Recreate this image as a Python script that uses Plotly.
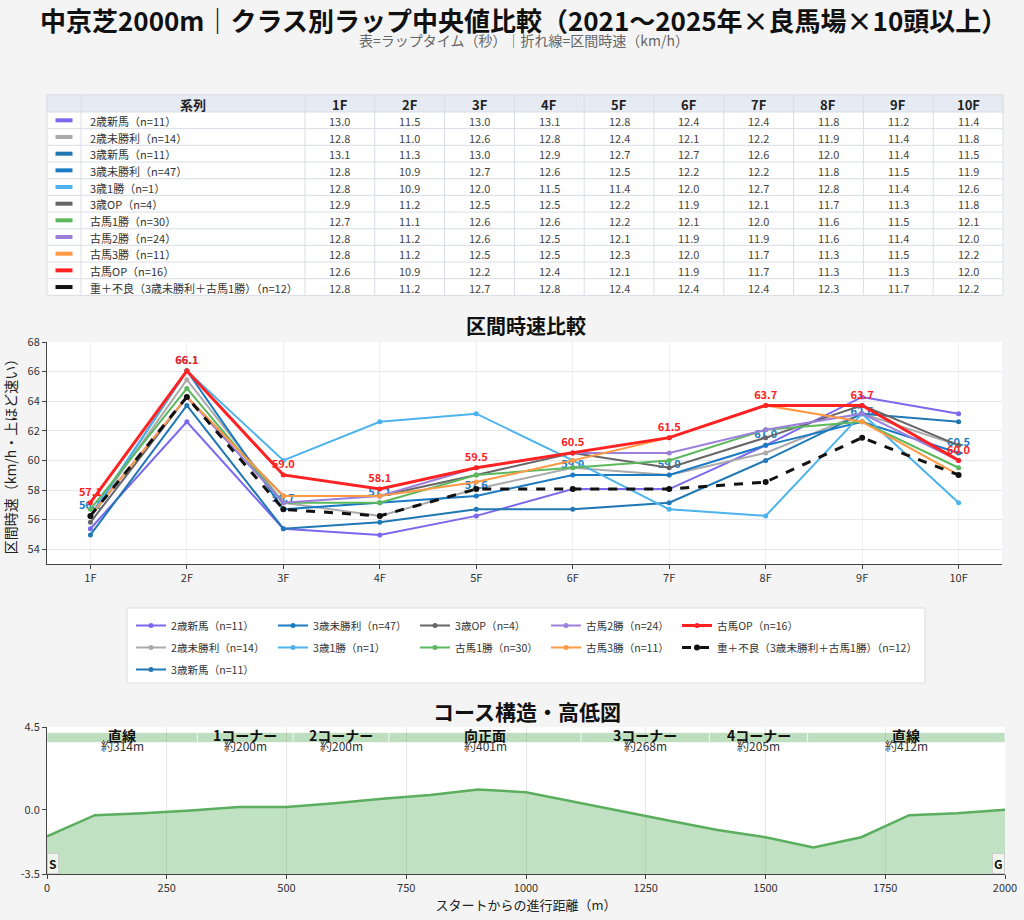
import plotly.graph_objects as go

W, H = 1024, 920
FONT = "Noto Sans CJK JP"

# ---- data ----
sections = ["1F", "2F", "3F", "4F", "5F", "6F", "7F", "8F", "9F", "10F"]

series_names = [
    "2歳新馬（n=11）",
    "2歳未勝利（n=14）",
    "3歳新馬（n=11）",
    "3歳未勝利（n=47）",
    "3歳1勝（n=1）",
    "3歳OP（n=4）",
    "古馬1勝（n=30）",
    "古馬2勝（n=24）",
    "古馬3勝（n=11）",
    "古馬OP（n=16）",
    "重＋不良（3歳未勝利＋古馬1勝）（n=12）",
]

# lap medians (seconds per 200m)
lap_2sai_shinba = [13.0, 11.5, 13.0, 13.1, 12.8, 12.4, 12.4, 11.8, 11.2, 11.4]
lap_2sai_misho = [12.8, 11.0, 12.6, 12.8, 12.4, 12.1, 12.2, 11.9, 11.4, 11.8]
lap_3sai_shinba = [13.1, 11.3, 13.0, 12.9, 12.7, 12.7, 12.6, 12.0, 11.4, 11.5]
lap_3sai_misho = [12.8, 10.9, 12.7, 12.6, 12.5, 12.2, 12.2, 11.8, 11.5, 11.9]
lap_3sai_1win = [12.8, 10.9, 12.0, 11.5, 11.4, 12.0, 12.7, 12.8, 11.4, 12.6]
lap_3sai_op = [12.9, 11.2, 12.5, 12.5, 12.2, 11.9, 12.1, 11.7, 11.3, 11.8]
lap_koba_1win = [12.7, 11.1, 12.6, 12.6, 12.2, 12.1, 12.0, 11.6, 11.5, 12.1]
lap_koba_2win = [12.8, 11.2, 12.6, 12.5, 12.1, 11.9, 11.9, 11.6, 11.4, 12.0]
lap_koba_3win = [12.8, 11.2, 12.5, 12.5, 12.3, 12.0, 11.7, 11.3, 11.5, 12.2]
lap_koba_op = [12.6, 10.9, 12.2, 12.4, 12.1, 11.9, 11.7, 11.3, 11.3, 12.0]
lap_heavy = [12.8, 11.2, 12.7, 12.8, 12.4, 12.4, 12.4, 12.3, 11.7, 12.2]

laps = [lap_2sai_shinba, lap_2sai_misho, lap_3sai_shinba, lap_3sai_misho,
        lap_3sai_1win, lap_3sai_op, lap_koba_1win, lap_koba_2win,
        lap_koba_3win, lap_koba_op, lap_heavy]

colors = ["#7b68ee", "#aaaaaa", "#1f77b4", "#1a7ac4", "#4db3ec", "#666666",
          "#5cb85c", "#9b7fdb", "#ff9944", "#ff2222", "#111111"]
line_widths = [2, 2, 2, 2, 2, 2, 2, 2, 2, 3, 3]
labeled = [False, False, False, True, False, False, False, False, False, True, False]
legend_col = [0, 0, 0, 1, 1, 2, 2, 3, 3, 4, 4]

# course profile
elev_x = [0, 100, 200, 300, 400, 500, 600, 700, 800, 900, 1000, 1100, 1200,
          1300, 1400, 1500, 1600, 1700, 1800, 1900, 2000]
elev_y = [-1.45, -0.3, -0.2, -0.05, 0.15, 0.15, 0.35, 0.6, 0.8, 1.1, 0.95, 0.42,
          -0.1, -0.6, -1.1, -1.5, -2.05, -1.5, -0.3, -0.2, 0.0]
seg_names = ["直線", "1コーナー", "2コーナー", "向正面", "3コーナー", "4コーナー", "直線"]
seg_lengths = [314, 200, 200, 401, 268, 205, 412]


def px_x(p):
    return p / W


def px_y(p):
    return 1 - p / H


fig = go.Figure()
shapes = []
annotations = []

# ---- table (drawn with shapes + annotations so row heights stay compact) ----
tbl_left, tbl_top = 47, 95
hdr_h, row_h = 17, 16.67
col_w = [34, 224] + [69.8] * len(sections)
col_edges = [tbl_left]
for w in col_w:
    col_edges.append(col_edges[-1] + w)
tbl_right = col_edges[-1]
tbl_bottom = tbl_top + hdr_h + row_h * len(series_names)
grid_c = "#d9dde4"

shapes.append(dict(type="rect", xref="paper", yref="paper", layer="below",
                   x0=px_x(tbl_left), x1=px_x(tbl_right), y0=px_y(tbl_bottom), y1=px_y(tbl_top),
                   fillcolor="white", line=dict(color=grid_c, width=1)))
shapes.append(dict(type="rect", xref="paper", yref="paper", layer="below",
                   x0=px_x(tbl_left), x1=px_x(tbl_right), y0=px_y(tbl_top + hdr_h), y1=px_y(tbl_top),
                   fillcolor="#e6ebf3", line=dict(color=grid_c, width=1)))
for r in range(1, len(series_names)):
    yy = tbl_top + hdr_h + row_h * r
    shapes.append(dict(type="line", xref="paper", yref="paper", layer="below",
                       x0=px_x(tbl_left), x1=px_x(tbl_right), y0=px_y(yy), y1=px_y(yy),
                       line=dict(color=grid_c, width=1)))
for xe in col_edges[1:-1]:
    shapes.append(dict(type="line", xref="paper", yref="paper", layer="below",
                       x0=px_x(xe), x1=px_x(xe), y0=px_y(tbl_bottom), y1=px_y(tbl_top),
                       line=dict(color=grid_c, width=1)))

header_vals = ["系列"] + sections
for c, hv in enumerate(header_vals, start=1):
    annotations.append(dict(xref="paper", yref="paper",
                            x=px_x((col_edges[c] + col_edges[c + 1]) / 2),
                            y=px_y(tbl_top + hdr_h / 2 + 0.5), xanchor="center", yanchor="middle",
                            text=f"<b>{hv}</b>", showarrow=False,
                            font=dict(family=FONT, size=13, color="#222")))

for r, name in enumerate(series_names):
    yc = tbl_top + hdr_h + row_h * (r + 0.5)
    sw_c = (col_edges[0] + col_edges[1]) / 2
    shapes.append(dict(type="rect", xref="paper", yref="paper", layer="below",
                       x0=px_x(sw_c - 8.5), x1=px_x(sw_c + 8.5), y0=px_y(yc + 2), y1=px_y(yc - 2),
                       fillcolor=colors[r], line=dict(width=0)))
    annotations.append(dict(xref="paper", yref="paper", x=px_x(col_edges[1] + 7),
                            y=px_y(yc + 0.5), xanchor="left", yanchor="middle",
                            text=name, showarrow=False,
                            font=dict(family=FONT, size=11, color="#333")))
    for j in range(len(sections)):
        annotations.append(dict(xref="paper", yref="paper",
                                x=px_x((col_edges[j + 2] + col_edges[j + 3]) / 2),
                                y=px_y(yc + 0.5), xanchor="center", yanchor="middle",
                                text=f"{laps[r][j]:.1f}", showarrow=False,
                                font=dict(family=FONT, size=11, color="#444")))

# ---- speed lines ----
legend_ids = ["legend", "legend2", "legend3", "legend4", "legend5"]
for i, name in enumerate(series_names):
    speeds = [720 / t for t in laps[i]]  # 200m lap -> km/h
    mode = "lines+markers+text" if labeled[i] else "lines+markers"
    fig.add_trace(go.Scatter(
        x=sections, y=speeds, mode=mode, name=name, legendgroup=name,
        line=dict(color=colors[i], width=line_widths[i],
                  dash="dash" if i == len(series_names) - 1 else "solid"),
        marker=dict(size=5 if i < len(series_names) - 1 else 6, color=colors[i]),
        text=[f"{v:.1f}" for v in speeds] if labeled[i] else None,
        textposition="top center",
        textfont=dict(family=FONT, size=11, color=colors[i], weight="bold"),
        legend=legend_ids[legend_col[i]],
        xaxis="x", yaxis="y",
    ))

# ---- course profile ----
fig.add_trace(go.Scatter(
    x=[elev_x[0], elev_x[-1]], y=[-3.5, -3.5], mode="lines",
    line=dict(width=0), showlegend=False, hoverinfo="skip",
    xaxis="x2", yaxis="y2",
))
fig.add_trace(go.Scatter(
    x=elev_x, y=elev_y, mode="lines", fill="tonexty",
    fillcolor="rgba(92,176,96,0.38)", line=dict(color="#5aae5e", width=2.5),
    showlegend=False, xaxis="x2", yaxis="y2",
))

start = 0
for name, length in zip(seg_names, seg_lengths):
    end = start + length
    shapes.append(dict(type="rect", xref="x2", yref="y2", x0=start, x1=end,
                       y0=3.65, y1=4.2, fillcolor="rgba(92,176,96,0.4)",
                       line=dict(color="rgba(255,255,255,0.6)", width=1),
                       layer="above"))
    mid = (start + end) / 2
    annotations.append(dict(xref="x2", yref="y2", x=mid, y=4.05, xanchor="center", yanchor="middle",
                            text=f"<b>{name}</b>", showarrow=False,
                            font=dict(family=FONT, size=14, color="#111")))
    annotations.append(dict(xref="x2", yref="y2", x=mid, y=3.47, xanchor="center", yanchor="middle",
                            text=f"約{length}m", showarrow=False,
                            font=dict(family=FONT, size=12, color="#333")))
    start = end

for lbl, xv, anchor in [("S", elev_x[0], "left"), ("G", elev_x[-1], "right")]:
    annotations.append(dict(xref="x2", yref="y2", x=xv, y=-3.5, xanchor=anchor,
                            yanchor="bottom", text=f"<b>{lbl}</b>", showarrow=False,
                            bgcolor="#eef5ea", bordercolor="#cccccc", borderwidth=1,
                            borderpad=1, font=dict(family=FONT, size=12, color="#111")))

# legend box
shapes.append(dict(type="rect", xref="paper", yref="paper",
                   x0=px_x(127), x1=px_x(925), y0=px_y(683), y1=px_y(608),
                   fillcolor="white", line=dict(color="#dddddd", width=1), layer="below"))

# titles
annotations += [
    dict(xref="paper", yref="paper", x=px_x(523), y=px_y(20), xanchor="center", yanchor="middle",
         text="<b>中京芝2000m｜クラス別ラップ中央値比較（2021〜2025年×良馬場×10頭以上）</b>",
         showarrow=False, font=dict(family=FONT, size=26, color="#111")),
    dict(xref="paper", yref="paper", x=px_x(524), y=px_y(40), xanchor="center", yanchor="middle",
         text="表=ラップタイム（秒）｜折れ線=区間時速（km/h）",
         showarrow=False, font=dict(family=FONT, size=14, color="#666")),
    dict(xref="paper", yref="paper", x=px_x(526), y=px_y(325), xanchor="center", yanchor="middle",
         text="<b>区間時速比較</b>",
         showarrow=False, font=dict(family=FONT, size=20, color="#111")),
    dict(xref="paper", yref="paper", x=px_x(527), y=px_y(711), xanchor="center", yanchor="middle",
         text="<b>コース構造・高低図</b>",
         showarrow=False, font=dict(family=FONT, size=21, color="#111")),
]

# legend laid out column by column like the reference (text start of each column)
legend_text_x = [171, 313, 455, 586, 717]
legend_layout = {}
for k, lid in enumerate(legend_ids):
    legend_layout[lid] = dict(
        x=px_x(legend_text_x[k] - 40), y=px_y(611), xanchor="left", yanchor="top",
        orientation="v", bgcolor="rgba(0,0,0,0)", borderwidth=0, traceorder="grouped",
        tracegroupgap=3,
        font=dict(family=FONT, size=10.6, color="#333"), itemwidth=30,
    )

# automargin off: the template's margin pushes were squeezing the whole layout
axis_common = dict(showline=True, linecolor="#444", linewidth=1, ticks="outside",
                   ticklen=4, tickcolor="#444", tickfont=dict(family=FONT, size=11, color="#333"),
                   zeroline=False, automargin=False)

fig.update_layout(
    autosize=True,
    margin=dict(l=0, r=0, t=0, b=0, autoexpand=False),
    paper_bgcolor="#f4f4f4", plot_bgcolor="white",
    font=dict(family=FONT, color="#333"),
    showlegend=True,
    xaxis=dict(domain=[px_x(47), px_x(1002)], anchor="y", type="category",
               range=[-0.45, 9.45], showgrid=True, gridcolor="#f0f0f4", **axis_common),
    yaxis=dict(domain=[px_y(564), px_y(342)], anchor="x", range=[53, 68],
               tick0=54, dtick=2, showgrid=True, gridcolor="#e6e6ee",
               title=dict(text="区間時速（km/h・上ほど速い）", font=dict(family=FONT, size=14, color="#222")),
               **axis_common),
    xaxis2=dict(domain=[px_x(47), px_x(1005)], anchor="y2", range=[0, 2000],
                tickvals=[0, 250, 500, 750, 1000, 1250, 1500, 1750, 2000],
                showgrid=True, gridcolor="#e6e6e6",
                title=dict(text="スタートからの進行距離（m）", font=dict(family=FONT, size=13, color="#222"),
                           standoff=6),
                **axis_common),
    yaxis2=dict(domain=[px_y(874), px_y(727)], anchor="x2", range=[-3.5, 4.5],
                tickvals=[-3.5, 0, 4.5], ticktext=["-3.5", "0.0", "4.5"],
                showgrid=False, **axis_common),
    shapes=shapes,
    annotations=annotations,
    **legend_layout,
)

# pin the plot div to the window so page margins/scrollbars never shrink it
fig.write_html(
    "out.html",
    default_width="100vw;position:fixed;left:0;top:0",
    default_height="100vh",
    config={"displayModeBar": False},
    post_script="document.body.style.margin='0px';document.body.style.overflow='hidden';",
)
